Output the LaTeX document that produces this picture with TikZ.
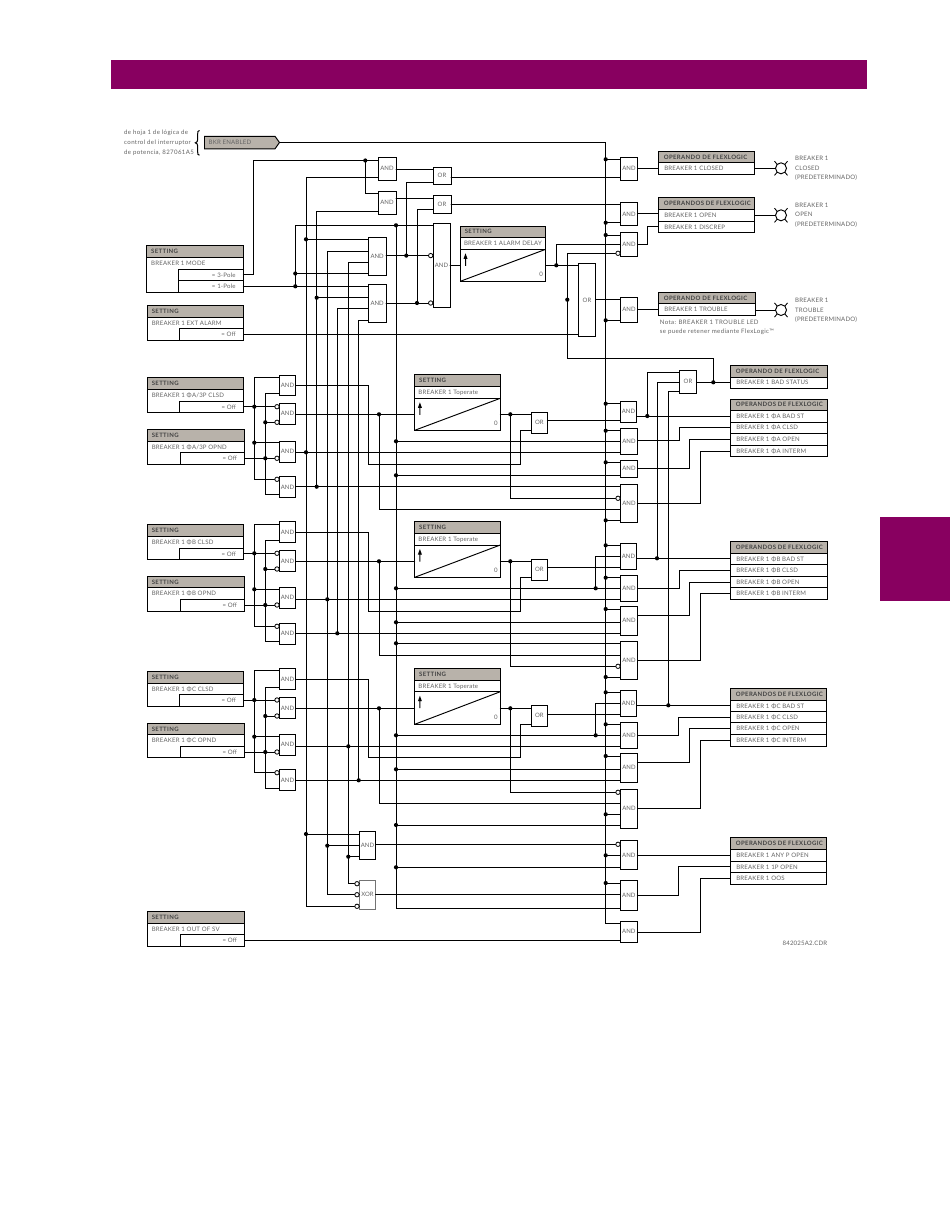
\documentclass[tikz,border=0pt]{standalone}
\usepackage{fontspec}
\newfontfamily\lab[LetterSpace=3]{Lato}
\newfontfamily\labh[LetterSpace=6]{Lato}
\newfontfamily\lablc[LetterSpace=6]{Lato}
\newfontfamily\labg[LetterSpace=0]{Lato}
\usepackage{tikz}
\definecolor{band}{RGB}{136,0,96}
\definecolor{tanbox}{RGB}{184,178,170}
\definecolor{txtc}{RGB}{100,100,100}
\definecolor{hdc}{RGB}{65,65,65}
\tikzset{
 wire/.style={line width=0.95pt,line cap=round,line join=miter},
 boxn/.style={draw=black,line width=0.95pt,fill=white,inner sep=0pt,outer sep=0pt},
 txt/.style={font=\lab\fontsize{6.1}{7}\selectfont,text=txtc,inner sep=0pt,anchor=west,text height=4.4pt,text depth=0pt},
 lctxt/.style={txt,font=\lablc\fontsize{6.1}{7}\selectfont},
 hd/.style={font=\labh\bfseries\fontsize{6}{7}\selectfont,text=hdc,inner sep=0pt,anchor=west,text height=4.4pt,text depth=0pt},
}
% gate: name x1 y1 x2 y2 label
\newcommand\gate[6]{%
 \pgfmathsetmacro\gw{#4-#2}\pgfmathsetmacro\gh{#5-#3}%
 \pgfmathsetmacro\gx{(#4+#2)/2}\pgfmathsetmacro\gy{(#5+#3)/2}%
 \node[boxn,minimum width=\gw pt,minimum height=\gh pt,font=\labg\fontsize{6}{7}\selectfont,text=txtc] (#1) at (\gx,\gy) {#6};}
% outer frame with no text
\newcommand\frm[5]{%
 \pgfmathsetmacro\gw{#4-#2}\pgfmathsetmacro\gh{#5-#3}%
 \pgfmathsetmacro\gx{(#4+#2)/2}\pgfmathsetmacro\gy{(#5+#3)/2}%
 \node[boxn,minimum width=\gw pt,minimum height=\gh pt] (#1) at (\gx,\gy) {};}
% name x1 x2 y1 yh yr y2 xs title
\newcommand\settingbox[9]{%
 \frm{#1}{#2}{#4}{#3}{#7}
 \draw[line width=0.95pt,fill=tanbox] (#2,#4) rectangle (#3,#5);
 \draw[line width=0.95pt] (#8,#7) -- (#8,#6) -- (#3,#6);
 \node[hd] (#1-h) at (#2+4.3,{(#4+#5)/2}) {SETTING};
 \node[txt] (#1-t) at (#2+4.3,{(#5+#6)/2}) {#9};}
\newcommand\settingval[4]{\node[txt,anchor=east] (#1-v) at (#2-7.5,{(#3+#4)/2}) {= Off};}
% name x1 x2 y1 yh yr y2 text
\newcommand\delaybox[8]{%
 \frm{#1}{#2}{#4}{#3}{#7}
 \draw[line width=0.95pt,fill=tanbox] (#2,#4) rectangle (#3,#5);
 \draw[line width=0.95pt] (#2,#6) -- (#3,#6);
 \draw[line width=0.95pt] (#2,#7) -- (#3,#6);
 \node[hd] (#1-h) at (#2+4.3,{(#4+#5)/2}) {SETTING};
 \node[txt] (#1-t) at (#2+3.5,{(#5+#6)/2}) {#8};
 \node[txt,anchor=center] (#1-z) at (#3-4.5,#7-7) {0};
 \fill[black] (#2+5.2,#6+4) -- (#2+7.2,#6+9.5) -- (#2+5.7,#6+9.5) -- (#2+5.7,#6+16.5) -- (#2+4.7,#6+16.5) -- (#2+4.7,#6+9.5) -- (#2+3.2,#6+9.5) -- cycle;}
% operand: name x1 x2 y1 yh y2 title
\newcommand\opbox[7]{%
 \frm{#1}{#2}{#4}{#3}{#6}
 \draw[line width=0.95pt,fill=tanbox] (#2,#4) rectangle (#3,#5);
 \node[hd] (#1-h) at (#2+5.4,{(#4+#5)/2}) {#7};}
% name x1 x2 ytop ybot text (ybot separator drawn)
\newcommand\oprow[6]{%
 \draw[line width=0.95pt] (#2,#5) -- (#3,#5);
 \node[txt] (#1) at (#2+5.8,{(#4+#5)/2}) {#6};}
\newcommand\lampnode[3]{%
 \node[circle,draw=black,line width=0.95pt,fill=white,minimum size=11pt,inner sep=0pt,outer sep=0pt] (#1) at (#2,#3) {};
 \draw[line width=0.85pt] (#1.45) -- +(2.6,-3.2) (#1.135) -- +(-2.6,-3.2) (#1.-45) -- +(2.6,3.2) (#1.-135) -- +(-2.6,3.2);}
\newcommand\jdots[1]{\foreach \px/\py in {#1} {\fill[black] (\px,\py) circle (2.1pt);}}
\newcommand\bubble[2]{\draw[line width=0.8pt,fill=white] ([xshift=-2.3pt]#1.west|-0,#2) circle (2.2pt);}
\begin{document}
\begin{tikzpicture}[x=1pt,y=-1pt]
\useasboundingbox (0,0) rectangle (950,1229);
\fill[white] (0,0) rectangle (950,1229);
\fill[band] (111,60) rectangle (866.5,89);
\fill[band] (880,517) rectangle (950,600.5);

% source note
\node[lctxt] (src1) at (124,132.5) {de hoja 1 de lógica de};
\node[lctxt] (src2) at (124,142) {control del interruptor};
\node[lctxt] (src3) at (124,152) {de potencia, 827061A5};
\draw[line width=1pt] (199.5,130.5) .. controls (197.7,130.5) and (197.7,132) .. (197.7,134) -- (197.7,139.5) .. controls (197.7,141.5) and (197,142.3) .. (195.3,142.8) .. controls (197,143.3) and (197.7,144.2) .. (197.7,146) -- (197.7,152) .. controls (197.7,154) and (197.7,155.2) .. (199.5,155.2);
\draw[line width=0.95pt,fill=tanbox] (204.5,136.3) -- (275,136.3) -- (279.5,142.5) -- (275,148.8) -- (204.5,148.8) -- cycle;
\coordinate (bkrtip) at (279.5,142.5);
\node[txt] (bkr) at (208.5,142.5) {BKR ENABLED};
\coordinate (bustop) at (605.7,142.5);

% gates
\gate{t1}{378}{157}{396}{180.3}{AND}
\gate{t2}{378}{191}{396}{214.3}{AND}
\gate{o1}{433}{167.3}{451}{184.3}{OR}
\gate{o2}{433}{195.3}{451}{213}{OR}
\gate{big}{433}{223.3}{450}{307.3}{AND}
\gate{m3}{368.3}{237.3}{386}{275.3}{AND}
\gate{m4}{368.3}{284.3}{386}{322.3}{AND}
\gate{or5}{578.3}{263.3}{595.7}{336.7}{OR}
\gate{g1}{620.3}{157.3}{637.7}{180.3}{AND}
\gate{g2}{620.3}{202.3}{637.7}{225.7}{AND}
\gate{g3}{620.3}{232.3}{637.7}{256.3}{AND}
\gate{g4}{620.3}{297.3}{637.7}{322.3}{AND}
\gate{ob}{679.3}{370.3}{696.7}{393.3}{OR}
\gate{a1}{279.3}{375}{295.7}{395.7}{AND}
\gate{a2}{279.3}{403.3}{295.7}{424.3}{AND}
\gate{a3}{279.3}{441.3}{295.7}{462.3}{AND}
\gate{a4}{279.3}{476.3}{295.7}{497.7}{AND}
\gate{b1}{279.3}{521.3}{295.7}{542.7}{AND}
\gate{b2}{279.3}{550}{295.7}{571.7}{AND}
\gate{b3}{279.3}{587.3}{295.7}{608.3}{AND}
\gate{b4}{279.3}{623.3}{295.7}{644.3}{AND}
\gate{c1}{279.3}{668.3}{295.7}{689.7}{AND}
\gate{c2}{279.3}{697.3}{295.7}{718.7}{AND}
\gate{c3}{279.3}{734}{295.7}{755.3}{AND}
\gate{c4}{279.3}{769.3}{295.7}{790.7}{AND}
\gate{orA}{531.3}{412.3}{547.3}{433.3}{OR}
\gate{orB}{531.3}{559.3}{547.3}{580.3}{OR}
\gate{orC}{531.3}{705.3}{547.3}{726.3}{OR}
\gate{ga1}{620.3}{401.3}{636.7}{422.3}{AND}
\gate{ga2}{620.3}{428.3}{637.7}{454.3}{AND}
\gate{ga3}{620.3}{460.3}{637.7}{477.3}{AND}
\gate{ga4}{620.3}{484.3}{637.7}{522.3}{AND}
\gate{gb1}{620.3}{543.3}{636.7}{569.3}{AND}
\gate{gb2}{620.3}{575}{637.7}{601.3}{AND}
\gate{gb3}{620.3}{606.3}{637.7}{635.3}{AND}
\gate{gb4}{620.3}{641}{637.7}{679.3}{AND}
\gate{gc1}{620.3}{690.3}{636.7}{716.3}{AND}
\gate{gc2}{620.3}{722.3}{637.7}{748.7}{AND}
\gate{gc3}{620.3}{753.3}{637.7}{782.3}{AND}
\gate{gc4}{620.3}{789.3}{637.7}{828.3}{AND}
\gate{gd1}{620.3}{840}{637.3}{869.7}{AND}
\gate{gd2}{620.3}{880.3}{637.3}{910.7}{AND}
\gate{gd3}{620.3}{921.3}{637.3}{942.3}{AND}
\gate{and5}{359.3}{831.3}{375.7}{859.7}{AND}
\gate{xor}{359.3}{880.3}{375.7}{909.3}{XOR}
\draw[line width=1pt,draw=black!55] (xor.south west) rectangle (xor.north east);

% settings
\settingbox{mode}{146.7}{243.3}{245.5}{257}{269.7}{292}{178}{BREAKER 1 MODE}
\draw[line width=0.95pt] (178,280.3) -- (243.3,280.3);
\node[txt,anchor=east] (mode-v1) at (235.8,274.8) {= 3-Pole};
\node[txt,anchor=east] (mode-v2) at (235.8,286.2) {= 1-Pole};
\settingbox{ext}{147.3}{243.5}{305.3}{317.3}{328.3}{340.3}{179.3}{BREAKER 1 EXT ALARM}
\settingval{ext}{243.5}{328.3}{340.3}
\settingbox{sa1}{147.3}{243.7}{377.3}{389.3}{401.3}{412.3}{179.3}{BREAKER 1 ΦA/3P CLSD}
\settingval{sa1}{243.7}{401.3}{412.3}
\settingbox{sa2}{147.3}{244.7}{429.3}{441.3}{452.3}{464.3}{180.3}{BREAKER 1 ΦA/3P OPND}
\settingval{sa2}{244.7}{452.3}{464.3}
\settingbox{sb1}{147.3}{243.7}{524.3}{536.7}{548.3}{559.3}{179.3}{BREAKER 1 ΦB CLSD}
\settingval{sb1}{243.7}{548.3}{559.3}
\settingbox{sb2}{147.3}{244.7}{576.3}{587.7}{599.7}{611.3}{180.3}{BREAKER 1 ΦB OPND}
\settingval{sb2}{244.7}{599.7}{611.3}
\settingbox{sc1}{147.3}{243.7}{671.3}{683.3}{694.3}{706.3}{179.3}{BREAKER 1 ΦC CLSD}
\settingval{sc1}{243.7}{694.3}{706.3}
\settingbox{sc2}{147.3}{244.7}{723.3}{734.3}{746.3}{757.3}{180.3}{BREAKER 1 ΦC OPND}
\settingval{sc2}{244.7}{746.3}{757.3}
\settingbox{sv}{147.3}{244.7}{911.3}{923.3}{934.3}{946.3}{180.3}{BREAKER 1 OUT OF SV}
\settingval{sv}{244.7}{934.3}{946.3}

% delays
\delaybox{tm1}{460.3}{545.7}{226}{237.3}{249.3}{281.3}{BREAKER 1 ALARM DELAY}
\delaybox{tA}{414.7}{500.3}{374.7}{386.3}{398.3}{430.3}{BREAKER 1 Toperate}
\delaybox{tB}{414.7}{500.3}{521.7}{533.3}{545}{577.3}{BREAKER 1 Toperate}
\delaybox{tC}{414.7}{500.3}{668.7}{680.7}{691.7}{724.3}{BREAKER 1 Toperate}

% operand boxes
\opbox{op1}{658.3}{754.7}{151.3}{162.7}{174.3}{OPERANDO DE FLEXLOGIC}
\oprow{op1a}{658.3}{754.7}{162.7}{174.3}{BREAKER 1 CLOSED}
\opbox{op2}{658.3}{754.7}{197.3}{209.3}{232.3}{OPERANDOS DE FLEXLOGIC}
\oprow{op2a}{658.3}{754.7}{209.3}{221.3}{BREAKER 1 OPEN}
\oprow{op2b}{658.3}{754.7}{221.3}{232.3}{BREAKER 1 DISCREP}
\opbox{op3}{658.3}{755.7}{292.3}{303.7}{315.3}{OPERANDO DE FLEXLOGIC}
\oprow{op3a}{658.3}{755.7}{303.7}{315.3}{BREAKER 1 TROUBLE}
\opbox{opS}{730.3}{827.3}{365.3}{377}{388.3}{OPERANDO DE FLEXLOGIC}
\oprow{opSa}{730.3}{827.3}{377}{388.3}{BREAKER 1 BAD STATUS}
\opbox{opA}{730.3}{827.3}{399}{410.3}{456.7}{OPERANDOS DE FLEXLOGIC}
\oprow{opAa}{730.3}{827.3}{410.3}{422}{BREAKER 1 ΦA BAD ST}
\oprow{opAb}{730.3}{827.3}{422}{433.3}{BREAKER 1 ΦA CLSD}
\oprow{opAc}{730.3}{827.3}{433.3}{445.3}{BREAKER 1 ΦA OPEN}
\oprow{opAd}{730.3}{827.3}{445.3}{456.7}{BREAKER 1 ΦA INTERM}
\opbox{opB}{730.3}{827.3}{541.3}{553.7}{599.3}{OPERANDOS DE FLEXLOGIC}
\oprow{opBa}{730.3}{827.3}{553.7}{564.7}{BREAKER 1 ΦB BAD ST}
\oprow{opBb}{730.3}{827.3}{564.7}{576.3}{BREAKER 1 ΦB CLSD}
\oprow{opBc}{730.3}{827.3}{576.3}{587.3}{BREAKER 1 ΦB OPEN}
\oprow{opBd}{730.3}{827.3}{587.3}{599.3}{BREAKER 1 ΦB INTERM}
\opbox{opC}{730.3}{826.3}{688.7}{700.7}{746.3}{OPERANDOS DE FLEXLOGIC}
\oprow{opCa}{730.3}{826.3}{700.7}{711.7}{BREAKER 1 ΦC BAD ST}
\oprow{opCb}{730.3}{826.3}{711.7}{722.7}{BREAKER 1 ΦC CLSD}
\oprow{opCc}{730.3}{826.3}{722.7}{734.3}{BREAKER 1 ΦC OPEN}
\oprow{opCd}{730.3}{826.3}{734.3}{746.3}{BREAKER 1 ΦC INTERM}
\opbox{opD}{730.3}{826.3}{837.3}{849.3}{884.3}{OPERANDOS DE FLEXLOGIC}
\oprow{opDa}{730.3}{826.3}{849.3}{861.3}{BREAKER 1 ANY P OPEN}
\oprow{opDb}{730.3}{826.3}{861.3}{872.7}{BREAKER 1 1P OPEN}
\oprow{opDc}{730.3}{826.3}{872.7}{884.3}{BREAKER 1 OOS}

% lamps
\lampnode{l1}{781}{168.3}
\lampnode{l2}{781}{215.3}
\lampnode{l3}{781}{310}
\foreach \n/\yy/\tb in {n1/158.5/CLOSED, n2/205/OPEN, n3/300.5/TROUBLE} {
 \node[txt] (\n a) at (795,\yy) {BREAKER 1};
 \node[txt] (\n b) at (795,\yy+9.7) {\tb};
 \node[txt] (\n c) at (795,\yy+19) {(PREDETERMINADO)};
}
\node[lctxt] (note1) at (659.7,322.5) {Nota: BREAKER 1 TROUBLE LED};
\node[lctxt] (note2) at (659.7,331.5) {se puede retener mediante FlexLogic™};
\node[txt,anchor=east] (cdr) at (827.5,943.5) {842025A2.CDR};

% wires
\begin{scope}[wire]
% bus
\draw (bkrtip) -- (bustop) -- (605.7,923.3) -- (gd3.west|-0,923.3);
\foreach \g/\y in {g1/159.3,g2/222.7,g3/235,g4/320.3,ga1/403.7,ga2/430.7,ga3/462.3,ga4/520.3,gb1/545.3,gb2/577.7,gb3/609,gb4/677,gc1/692.3,gc2/724.3,gc3/756,gc4/814.3,gd1/855.3,gd2/883}
  \draw (605.7,\y) -- (\g.west|-0,\y);
% mode
\draw (mode.east|-0,274.5) -- (253.5,274.5) |- (t1.west|-0,160.5);
\draw (365.3,160.5) |- (t2.west|-0,193.3);
\draw (t1.west|-0,177.3) -| (306,906.3) -- (xor.west|-0,906.3);
\draw (t2.west|-0,211.3) -| (316.7,486.7);
\draw (m3.west|-0,251) -| (327.3,894.7) -- (xor.west|-0,894.7);
\draw (m4.west|-0,308.3) -| (337.3,633.3);
\draw (m3.west|-0,262.3) -| (348.3,883.7) -- (xor.west|-0,883.7);
\draw (m4.west|-0,320.3) -| (358.7,780.3);
\draw (306,239.3) -- (m3.west|-0,239.3);
\draw (316.7,297.7) -- (m4.west|-0,297.7);
\draw (mode.east|-0,286.3) -- (m4.west|-0,286.3);
\draw (295.3,286.3) |- (big.west|-0,225.3);
\draw (295.3,273.5) -- (m3.west|-0,273.5);
\draw (396,225.3) -- (396,908.7) -- (gd2.west|-0,908.7);
\draw (m3.east|-0,255.6) -- (big.west|-0,255.6);
\draw (m4.east|-0,303) -- (big.west|-0,303);
\draw (406.3,255.6) |- (o1.west|-0,182.3);
\draw (417,303) |- (o2.west|-0,209.7);
\draw (t1.east|-0,169.3) -- (o1.west|-0,169.3);
\draw (t2.east|-0,198.3) -- (o2.west|-0,198.3);
\draw (o1.east|-0,177.3) -- (g1.west|-0,177.3);
\draw (o2.east|-0,204.3) -- (g2.west|-0,204.3);
\draw (big.east|-0,265.7) -- (tm1.west|-0,265.7);
\draw (tm1.east|-0,265.3) -- (or5.west|-0,265.3);
\draw (556.3,265.3) |- (g3.west|-0,244.3);
\draw (ext.east|-0,334.3) -- (or5.west|-0,334.3);
\draw (or5.east|-0,299.7) -- (g4.west|-0,299.7);
\draw (g3.west|-0,253.3) -| (567.3,358.7) -- (713.3,358.7) -- (713.3,382.3);
% top outputs
\draw (g1.east|-0,168.3) -- (op1.west|-0,168.3);
\draw (op1.east|-0,168.3) -- (l1.west);
\draw (g2.east|-0,213.7) -- (op2.west|-0,213.7);
\draw (op2.east|-0,215.3) -- (l2.west);
\draw (g3.east|-0,244.3) -| (647.7,226.3) -- (op2.west|-0,226.3);
\draw (g4.east|-0,309.7) -- (op3.west|-0,309.7);
\draw (op3.east|-0,310) -- (l3.west);
% OR bad status
\draw (647.3,416) |- (ob.west|-0,372.3);
\draw (657,558.3) |- (ob.west|-0,382.3);
\draw (668.3,705.3) |- (ob.west|-0,391.3);
\draw (ob.east|-0,382.3) -- (opS.west|-0,382.3);
% phase A
\draw (a1.west|-0,377.3) -| (254.3,479.3) -- (a4.west|-0,479.3);
\draw (a1.west|-0,393.3) -| (265.3,494.3) -- (a4.west|-0,494.3);
\draw (sa1.east|-0,406.7) -- (a2.west|-0,406.7);
\draw (265.3,422.3) -- (a2.west|-0,422.3);
\draw (254.3,442.7) -- (a3.west|-0,442.7);
\draw (sa2.east|-0,458.3) -- (a3.west|-0,458.3);
\draw (a1.east|-0,385) -| (368.3,464.3) -| (520.3,430.3) -- (orA.west|-0,430.3);
\draw (a2.east|-0,414.3) -- (tA.west|-0,414.3);
\draw (379,414.3) |- (ga4.west|-0,509.3);
\draw (a3.east|-0,452.3) -- (ga2.west|-0,452.3);
\draw (a4.east|-0,486.7) -- (ga4.west|-0,486.7);
\draw (tA.east|-0,414.3) -- (orA.west|-0,414.3);
\draw (510.3,414.3) |- (ga4.west|-0,498.3);
\draw (396,441.3) -- (ga2.west|-0,441.3);
\draw (396,475.3) -- (ga3.west|-0,475.3);
\draw (orA.east|-0,420.3) -- (ga1.west|-0,420.3);
\draw (ga1.east|-0,416) -- (opA.west|-0,416);
\draw (ga2.east|-0,440.3) -| (679.7,427.7) -- (opA.west|-0,427.7);
\draw (ga3.east|-0,468.3) -| (689.7,439.3) -- (opA.west|-0,439.3);
\draw (ga4.east|-0,503.3) -| (700.7,451.3) -- (opA.west|-0,451.3);
% phase B
\draw (b1.west|-0,524.3) -| (254.3,626.3) -- (b4.west|-0,626.3);
\draw (b1.west|-0,540.3) -| (265.3,641.7) -- (b4.west|-0,641.7);
\draw (sb1.east|-0,553.3) -- (b2.west|-0,553.3);
\draw (265.3,569) -- (b2.west|-0,569);
\draw (254.3,589.3) -- (b3.west|-0,589.3);
\draw (sb2.east|-0,605) -- (b3.west|-0,605);
\draw (b1.east|-0,532.3) -| (368.3,611.3) -| (520.3,577.3) -- (orB.west|-0,577.3);
\draw (b2.east|-0,561.3) -- (tB.west|-0,561.3);
\draw (379,561.3) |- (gb4.west|-0,655.3);
\draw (b3.east|-0,599.3) -- (gb2.west|-0,599.3);
\draw (b4.east|-0,633.3) -- (gb3.west|-0,633.3);
\draw (tB.east|-0,561.3) -- (orB.west|-0,561.3);
\draw (510.3,561.3) |- (gb4.west|-0,666.3);
\draw (396,588.3) -- (gb2.west|-0,588.3);
\draw (396,622.3) -- (gb3.west|-0,622.3);
\draw (396,643.3) -- (gb4.west|-0,643.3);
\draw (orB.east|-0,567.3) -- (gb1.west|-0,567.3);
\draw (gb1.west|-0,556.3) -| (595.7,588.3);
\draw (gb1.east|-0,558.3) -- (opB.west|-0,558.3);
\draw (gb2.east|-0,588.3) -| (679.7,570.3) -- (opB.west|-0,570.3);
\draw (gb3.east|-0,615.3) -| (689.7,582) -- (opB.west|-0,582);
\draw (gb4.east|-0,660.3) -| (700.7,593.3) -- (opB.west|-0,593.3);
% phase C
\draw (c1.west|-0,670) -| (254.3,772.7) -- (c4.west|-0,772.7);
\draw (c1.west|-0,687.3) -| (265.3,788.7) -- (c4.west|-0,788.7);
\draw (sc1.east|-0,700) -- (c2.west|-0,700);
\draw (265.3,716) -- (c2.west|-0,716);
\draw (254.3,736.7) -- (c3.west|-0,736.7);
\draw (sc2.east|-0,752) -- (c3.west|-0,752);
\draw (c1.east|-0,679.3) -| (368.3,757.3) -| (520.3,724.3) -- (orC.west|-0,724.3);
\draw (c2.east|-0,708.3) -- (tC.west|-0,708.3);
\draw (379,708.3) |- (gc4.west|-0,803.3);
\draw (c3.east|-0,746.5) -- (gc2.west|-0,746.5);
\draw (c4.east|-0,780.3) -- (gc3.west|-0,780.3);
\draw (tC.east|-0,708.3) -- (orC.west|-0,708.3);
\draw (510.3,708.3) |- (gc4.west|-0,792.3);
\draw (396,735.3) -- (gc2.west|-0,735.3);
\draw (396,769.3) -- (gc3.west|-0,769.3);
\draw (396,825) -- (gc4.west|-0,825);
\draw (orC.east|-0,714.3) -- (gc1.west|-0,714.3);
\draw (gc1.west|-0,703.3) -| (595.7,735.3);
\draw (gc1.east|-0,705.3) -- (opC.west|-0,705.3);
\draw (gc2.east|-0,735.3) -| (678.7,717.3) -- (opC.west|-0,717.3);
\draw (gc3.east|-0,762.3) -| (689.7,728.3) -- (opC.west|-0,728.3);
\draw (gc4.east|-0,808.3) -| (700.7,740.3) -- (opC.west|-0,740.3);
% lower
\draw (306,834) -- (and5.west|-0,834);
\draw (327.3,845.7) -- (and5.west|-0,845.7);
\draw (348.3,856.7) -- (and5.west|-0,856.7);
\draw (and5.east|-0,844.3) -- (gd1.west|-0,844.3);
\draw (xor.east|-0,894.3) -- (gd2.west|-0,894.3);
\draw (396,867.3) -- (gd1.west|-0,867.3);
\draw (gd1.east|-0,855.3) -- (opD.west|-0,855.3);
\draw (gd2.east|-0,895.3) -| (678.7,866.3) -- (opD.west|-0,866.3);
\draw (gd3.east|-0,932.3) -| (700.3,878.3) -- (opD.west|-0,878.3);
\draw (sv.east|-0,940.3) -- (gd3.west|-0,940.3);
\end{scope}

% bubbles
\bubble{big}{255.6}\bubble{big}{303}\bubble{g3}{253.3}
\bubble{a2}{406.7}\bubble{a2}{422.3}\bubble{a3}{458.3}\bubble{a4}{479.3}
\bubble{b2}{553.3}\bubble{b2}{569}\bubble{b3}{605}\bubble{b4}{626.3}
\bubble{c2}{700}\bubble{c2}{716}\bubble{c3}{752}\bubble{c4}{772.7}
\bubble{ga4}{498.3}\bubble{gb4}{666.3}\bubble{gc4}{792.3}\bubble{gd1}{844.3}
\bubble{xor}{883.7}\bubble{xor}{894.7}\bubble{xor}{906.3}

% junction dots
\jdots{365.3/160.5,306/239.3,396/225.3,295.3/273.5,295.3/286.3,316.7/297.7,406.3/255.6,417/303,556.3/265.3,567.3/299.7,713.3/382.3}
\jdots{605.7/159.3,605.7/222.7,605.7/235,605.7/320.3,605.7/403.7,605.7/430.7,605.7/462.3,605.7/520.3,605.7/545.3,605.7/577.7,605.7/609,605.7/677,605.7/692.3,605.7/724.3,605.7/756,605.7/814.3,605.7/855.3,605.7/883}
\jdots{254.3/406.7,254.3/442.7,265.3/422.3,265.3/458.3,254.3/553.3,254.3/589.3,265.3/569,265.3/605,254.3/700,254.3/736.7,265.3/716,265.3/752}
\jdots{379/414.3,379/561.3,379/708.3,510.3/414.3,510.3/561.3,510.3/708.3}
\jdots{306/452.3,316.7/486.7,327.3/599.3,337.3/633.3,348.3/746.3,358.7/780.3,306/834,327.3/845.7,348.3/856.7}
\jdots{396/441.3,396/475.3,396/588.3,396/622.3,396/643.3,396/735.3,396/769.3,396/825,396/867.3}
\jdots{647.3/416,657/558.3,668.3/705.3,595.7/588.3,595.7/735.3}
\end{tikzpicture}
\end{document}
